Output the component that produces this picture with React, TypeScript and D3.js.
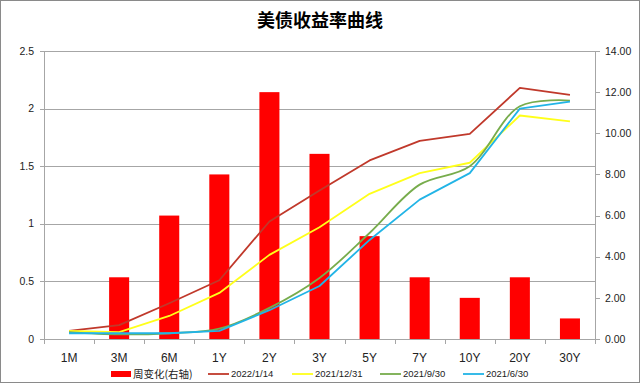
import React from "react";
import * as d3 from "d3";

const categories = ["1M", "3M", "6M", "1Y", "2Y", "3Y", "5Y", "7Y", "10Y", "20Y", "30Y"];
const weekChange = [0, 3, 6, 8, 12, 9, 5, 3, 2, 3, 1];
const y20220114 = [0.07, 0.12, 0.31, 0.51, 1.02, 1.29, 1.55, 1.72, 1.78, 2.18, 2.12];
const y20211231 = [0.07, 0.06, 0.2, 0.4, 0.73, 0.97, 1.26, 1.44, 1.53, 1.94, 1.89];
const y20210930 = [0.06, 0.04, 0.05, 0.09, 0.27, 0.53, 0.92, 1.34, 1.5, 2.02, 2.07];
const y20210630 = [0.05, 0.05, 0.05, 0.07, 0.25, 0.46, 0.86, 1.21, 1.44, 2.0, 2.06];
const leftTicks = [0, 0.5, 1, 1.5, 2, 2.5];
const rightTicks = [0, 2, 4, 6, 8, 10, 12, 14];

const title = "美债收益率曲线";
const barLabel = "周变化(右轴)";

const series = [
  { name: "2022/1/14", values: y20220114, color: "#C0392B", smooth: false },
  { name: "2021/12/31", values: y20211231, color: "#FFFF1A", smooth: false },
  { name: "2021/9/30", values: y20210930, color: "#77AC4C", smooth: true },
  { name: "2021/6/30", values: y20210630, color: "#22B4E6", smooth: false },
];

const W = 640;
const H = 383;
const L = 44;
const R = 595;
const T = 51;
const B = 339;
const latin = "'Liberation Sans', Arial, sans-serif";
const cjk = "'Noto Sans CJK SC', 'Liberation Sans', sans-serif";
const gridColor = "#A6A6A6";

export default function App() {
  const x = d3.scaleBand<string>().domain(categories).range([L, R]);
  const yL = d3.scaleLinear().domain([0, 2.5]).range([B, T]);
  const yR = d3.scaleLinear().domain([0, 14]).range([B, T]);
  const barW = x.bandwidth() * 0.4;
  const cx = (c: string) => (x(c) as number) + x.bandwidth() / 2;

  const legendItems = [
    { kind: "bar", label: barLabel, color: "#FF0000", x0: 111, tx: 133 },
    { kind: "line", label: series[0].name, color: series[0].color, x0: 208, tx: 231 },
    { kind: "line", label: series[1].name, color: series[1].color, x0: 292, tx: 315 },
    { kind: "line", label: series[2].name, color: series[2].color, x0: 380, tx: 403 },
    { kind: "line", label: series[3].name, color: series[3].color, x0: 463, tx: 486 },
  ];
  const ly = 374;

  return (
    <svg
      width={W}
      height={H}
      style={{ position: "absolute", left: 0, top: 0, display: "block", background: "#fff" }}
    >
      <rect x={0.5} y={0.5} width={W - 1} height={H - 1} fill="#fff" stroke="#8A8A8A" strokeWidth={1} />
      <text
        x={320}
        y={27}
        textAnchor="middle"
        fontFamily={cjk}
        fontWeight="bold"
        fontSize={18}
        fill="#000"
      >
        {title}
      </text>

      {/* gridlines */}
      {leftTicks.map((t) => (
        <line key={"g" + t} x1={L} x2={R} y1={Math.round(yL(t)) + 0.5} y2={Math.round(yL(t)) + 0.5} stroke={gridColor} strokeWidth={1} />
      ))}

      {/* left axis */}
      <line x1={L + 0.5} x2={L + 0.5} y1={T} y2={B + 5} stroke={gridColor} />
      {leftTicks.map((t) => (
        <g key={"lt" + t}>
          <line x1={L - 4} x2={L} y1={Math.round(yL(t)) + 0.5} y2={Math.round(yL(t)) + 0.5} stroke={gridColor} />
          <text x={34} y={yL(t)} dy="0.35em" textAnchor="end" fontFamily={latin} fontSize={10.5} fill="#222">
            {d3.format("")(t)}
          </text>
        </g>
      ))}

      {/* right axis */}
      <line x1={R + 0.5} x2={R + 0.5} y1={T} y2={B} stroke={gridColor} />
      {rightTicks.map((t) => (
        <g key={"rt" + t}>
          <line x1={R} x2={R + 5} y1={Math.round(yR(t)) + 0.5} y2={Math.round(yR(t)) + 0.5} stroke={gridColor} />
          <text x={605} y={yR(t)} dy="0.35em" textAnchor="start" fontFamily={latin} fontSize={10.5} fill="#222">
            {t.toFixed(2)}
          </text>
        </g>
      ))}

      {/* x axis */}
      <line x1={L} x2={R} y1={B + 0.5} y2={B + 0.5} stroke={gridColor} />
      {categories.map((c, i) => (
        <line
          key={"xt" + c}
          x1={Math.round(x(c) as number) + 0.5}
          x2={Math.round(x(c) as number) + 0.5}
          y1={B}
          y2={B + 5}
          stroke={gridColor}
        />
      ))}
      <line x1={R + 0.5} x2={R + 0.5} y1={B} y2={B + 5} stroke={gridColor} />
      {categories.map((c) => (
        <text key={"xl" + c} x={cx(c)} y={362} textAnchor="middle" fontFamily={latin} fontSize={12} fill="#222">
          {c}
        </text>
      ))}

      {/* bars */}
      {categories.map((c, i) => (
        <rect
          key={"b" + c}
          x={cx(c) - barW / 2}
          y={yR(weekChange[i])}
          width={barW}
          height={B - yR(weekChange[i])}
          fill="#FF0000"
        />
      ))}

      {/* lines */}
      {series.map((s) => {
        const gen = d3
          .line<number>()
          .x((_, i) => cx(categories[i]))
          .y((v) => yL(v))
          .curve(s.smooth ? d3.curveCatmullRom.alpha(0.5) : d3.curveLinear);
        return (
          <path key={s.name} d={gen(s.values) || ""} fill="none" stroke={s.color} strokeWidth={1.8} strokeLinejoin="round" />
        );
      })}

      {/* legend */}
      {legendItems.map((it) => (
        <g key={"lg" + it.label}>
          {it.kind === "bar" ? (
            <rect x={it.x0} y={ly - 3} width={20} height={6} fill={it.color} />
          ) : (
            <line x1={it.x0} x2={it.x0 + 21} y1={ly} y2={ly} stroke={it.color} strokeWidth={1.8} />
          )}
          <text
            x={it.tx}
            y={ly}
            dy="0.35em"
            fontFamily={it.kind === "bar" ? cjk : latin}
            fontSize={it.kind === "bar" ? 10.5 : 9.5}
            fill="#222"
          >
            {it.label}
          </text>
        </g>
      ))}
    </svg>
  );
}
